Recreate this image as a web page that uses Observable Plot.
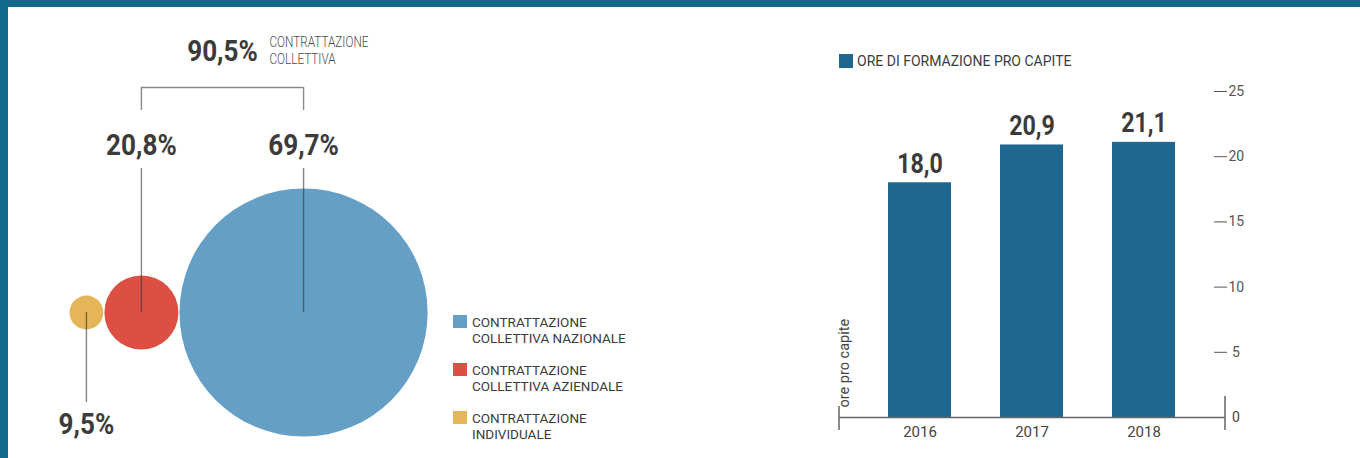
<!DOCTYPE html>
<html><head><meta charset="utf-8">
<script src="https://cdn.jsdelivr.net/npm/d3@7"></script>
<script src="https://cdn.jsdelivr.net/npm/@observablehq/plot@0.6"></script>
<style>
html,body{margin:0;padding:0;background:#fff;}
#page{position:relative;width:1360px;height:458px;overflow:hidden;background:#fff;font-family:Roboto,sans-serif;}
.bt{position:absolute;left:0;top:0;width:1360px;height:7px;background:#13698a;}
.bl{position:absolute;left:0;top:0;width:8px;height:458px;background:#13698a;}
#left{position:absolute;left:0;top:0;}
#right{position:absolute;left:800px;top:0;}
.lg{position:absolute;font-family:Roboto,sans-serif;color:#3c3c3c;}
.lg .sw{position:absolute;left:0;width:14px;height:13px;}
.lg .tx{position:absolute;white-space:nowrap;}
svg{overflow:visible;}
</style></head>
<body><div id="page"><div id="left"></div><div id="right"></div><div class="bt"></div><div class="bl"></div></div>
<script>
// ---- data: bubble chart ----
const categories = ["CONTRATTAZIONE INDIVIDUALE", "CONTRATTAZIONE COLLETTIVA AZIENDALE", "CONTRATTAZIONE COLLETTIVA NAZIONALE"];
const legendLines = [["CONTRATTAZIONE", "INDIVIDUALE"], ["CONTRATTAZIONE", "COLLETTIVA AZIENDALE"], ["CONTRATTAZIONE", "COLLETTIVA NAZIONALE"]];
const shares = [9.5, 20.8, 69.7];
const collectiveTotal = 90.5;
const collectiveLabel = "CONTRATTAZIONE\nCOLLETTIVA";
const bubbleColors = ["#e5b659", "#dc4f42", "#669fc5"];

// ---- data: bar chart ----
const years = ["2016", "2017", "2018"];
const hours = [18.0, 20.9, 21.1];
const yTicks = [0, 5, 10, 15, 20, 25];
const barLegend = "ORE DI FORMAZIONE PRO CAPITE";
const yTitle = "ore pro capite";
const barColor = "#1e678e";

const fmt1 = v => v.toFixed(1).replace(".", ",");
const pct = v => fmt1(v) + "%";

// bubbles packed side by side (radius proportional to value)
const GAP = 0.6;
const bubbles = categories.map((c, i) => ({cat: c, value: shares[i], color: bubbleColors[i], collective: i > 0}));
let acc = 0;
bubbles.forEach((b, i) => { if (i > 0) acc += GAP; b.cx = acc + b.value; acc += 2 * b.value; });
const coll = bubbles.filter(b => b.collective);
const indiv = bubbles.filter(b => !b.collective);
const midX = (coll[0].cx + coll[1].cx) / 2;

// horizontally condense given texts about their own anchor point
function condense(svg, texts, s) {
  svg.querySelectorAll("text").forEach(t => {
    if (!texts.includes(t.textContent)) return;
    const x = +(t.getAttribute("x") || 0), y = +(t.getAttribute("y") || 0);
    t.setAttribute("transform", (t.getAttribute("transform") || "") + ` translate(${x},${y}) scale(${s},1) translate(${-x},${-y})`);
  });
}

const bold = {fontSize: 29, fontWeight: 700, fill: "#3b3b3b", fontFamily: "Roboto", lineAnchor: "bottom"};
const lead = {stroke: "#333", strokeOpacity: 0.6, strokeWidth: 1.4};

const left = Plot.plot({
  width: 700, height: 458, margin: 0,
  x: {domain: [0, 100], range: [69, 247], axis: null},
  y: {domain: [-146, 312], range: [458, 0], axis: null},
  r: {type: "linear", domain: [0, 100], range: [0, 178]},
  color: {type: "identity"},
  style: {background: "transparent", fontFamily: "Roboto"},
  marks: [
    Plot.dot(bubbles, {x: "cx", y: 0, r: "value", fill: "color", stroke: null}),
    Plot.ruleX(coll, {x: "cx", y1: 0, y2: 144, ...lead}),
    Plot.ruleX(indiv, {x: "cx", y1: 0, y2: -90, ...lead}),
    Plot.text(coll, {x: "cx", y: 158, text: d => pct(d.value), ...bold}),
    Plot.text(indiv, {x: "cx", y: -121, text: d => pct(d.value), ...bold}),
    Plot.ruleY([225], {x1: coll[0].cx, x2: coll[1].cx, stroke: "#8a8a8a", strokeWidth: 1.4}),
    Plot.ruleX(coll, {x: "cx", y1: 202, y2: 225, stroke: "#8a8a8a", strokeWidth: 1.4}),
    Plot.text([collectiveTotal], {x: midX, y: 252, text: d => pct(d), ...bold}),
    Plot.text([collectiveLabel], {x: midX, y: 249, dx: 47, text: d => d, textAnchor: "start", lineAnchor: "bottom", lineHeight: 1.2, fontSize: 14, fontWeight: 300, fill: "#4a4a4a"})
  ]
});
condense(left, [...shares, collectiveTotal].map(pct), 0.9);
condense(left, [collectiveLabel.replace("\n", "")], 0.84);
document.getElementById("left").appendChild(left);

// bubble legend (HTML), order: nazionale, aziendale, individuale
const page = document.getElementById("page");
[2, 1, 0].forEach((idx, k) => {
  const d = document.createElement("div");
  d.className = "lg";
  d.style.left = "453px";
  d.style.top = (315 + 48 * k) + "px";
  d.innerHTML = `<div class="sw" style="background:${bubbleColors[idx]};top:0"></div>` +
    `<div class="tx" style="left:19px;top:-1.5px;font-size:13.5px;line-height:16.5px">${legendLines[idx].join("<br>")}</div>`;
  page.appendChild(d);
});

// bar legend
{
  const d = document.createElement("div");
  d.className = "lg";
  d.style.left = "839px";
  d.style.top = "54px";
  d.innerHTML = `<div class="sw" style="background:${barColor};top:0;height:14px"></div>` +
    `<div class="tx" style="left:18px;top:-1px;font-size:14px;line-height:16px">${barLegend}</div>`;
  page.appendChild(d);
}

const barData = years.map((y, i) => ({year: y, hours: hours[i]}));
const frameTicks = (index, scales, values, dims) => {
  const g = d3.create("svg:g");
  const y0 = scales.y(0);
  const xl = dims.marginLeft, xr = dims.width - dims.marginRight;
  g.append("line").attr("x1", xl).attr("x2", xl).attr("y1", y0 - 11).attr("y2", y0 + 13).attr("stroke", "#666").attr("stroke-width", 1.5);
  g.append("line").attr("x1", xr).attr("x2", xr).attr("y1", y0 - 21).attr("y2", y0 + 13).attr("stroke", "#666").attr("stroke-width", 1.5);
  return g.node();
};

const right = Plot.plot({
  width: 560, height: 458,
  marginLeft: 39, marginRight: 135, marginTop: 91, marginBottom: 41,
  x: {domain: years, padding: 0.435, axis: null},
  y: {domain: [0, 25], axis: null},
  style: {background: "transparent", fontFamily: "Roboto"},
  marks: [
    Plot.barY(barData, {x: "year", y: "hours", fill: barColor}),
    Plot.ruleY([0], {stroke: "#666", strokeWidth: 1.5}),
    frameTicks,
    Plot.axisX({tickSize: 0, tickPadding: 9, fontSize: 15, color: "#444", label: null}),
    Plot.axisY(yTicks.filter(d => d > 0), {anchor: "right", tickSize: 13, tickPadding: 2, dx: -12, fontSize: 14, color: "#555", label: null,
      tickFormat: d => d < 10 ? "\u00a0" + d : String(d)}),
    Plot.axisY([0], {anchor: "right", tickSize: 0, tickPadding: 6.5, fontSize: 14, color: "#444", label: null}),
    Plot.text([yTitle], {frameAnchor: "bottom-left", rotate: -90, textAnchor: "start", dx: 9, dy: -10, fontSize: 14.5, fill: "#444"}),
    Plot.text(barData, {x: "year", y: "hours", dy: -10, text: d => fmt1(d.hours), fontSize: 28, fontWeight: 700, fill: "#3b3b3b", lineAnchor: "bottom"})
  ]
});
condense(right, hours.map(fmt1), 0.83);
document.getElementById("right").appendChild(right);
</script>
</body></html>
